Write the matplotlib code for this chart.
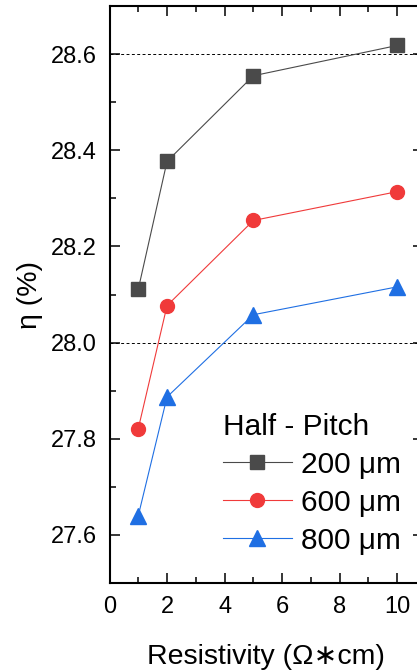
import matplotlib
matplotlib.use("Agg")
import matplotlib.pyplot as plt
from matplotlib.ticker import MultipleLocator

plt.rcParams['font.family'] = ['Liberation Sans', 'DejaVu Sans']

# data
resistivity = [1, 2, 5, 10]
eta_200 = [28.111, 28.377, 28.555, 28.618]
eta_600 = [27.821, 28.077, 28.254, 28.314]
eta_800 = [27.640, 27.887, 28.058, 28.116]
labels = ["200 μm", "600 μm", "800 μm"]
grid_levels = [28.0, 28.6]

fig = plt.figure(figsize=(4.17, 6.72), dpi=100)
ax = fig.add_axes([0.2626, 0.1324, 0.752, 0.8586])

ax.plot(resistivity, eta_200, color="#4a4a4a", lw=0.8, marker="s", ms=9.5,
        mec="#4a4a4a", mfc="#4a4a4a", label=labels[0])
ax.plot(resistivity, eta_600, color="#f03a3a", lw=0.8, marker="o", ms=10,
        mec="#f03a3a", mfc="#f03a3a", label=labels[1])
ax.plot(resistivity, eta_800, color="#1f6fe3", lw=0.8, marker="^", ms=11,
        mec="#1f6fe3", mfc="#1f6fe3", label=labels[2])

for g in grid_levels:
    ax.axhline(g, color="black", lw=0.7, ls=(0, (3, 2.5)), zorder=0)

ax.set_xlim(0, 10.9)
ax.set_ylim(27.5, 28.7)
ax.xaxis.set_major_locator(MultipleLocator(2))
ax.xaxis.set_minor_locator(MultipleLocator(1))
ax.yaxis.set_major_locator(MultipleLocator(0.2))
ax.yaxis.set_minor_locator(MultipleLocator(0.1))
ax.yaxis.set_major_formatter(matplotlib.ticker.FormatStrFormatter("%.1f"))

ax.tick_params(which="both", direction="in", top=True, right=True, width=1.1)
ax.tick_params(which="major", length=7.5, labelsize=17)
ax.tick_params(which="minor", length=4)
ax.tick_params(axis="y", pad=9)
ax.tick_params(axis="x", pad=9)
for s in ax.spines.values():
    s.set_linewidth(1.5)

ax.set_xlabel("Resistivity (Ω∗cm)", fontsize=20.5, labelpad=19)
ax.set_ylabel("η (%)", fontsize=20.5, labelpad=6)

leg = ax.legend(title="Half - Pitch", loc="lower left", bbox_to_anchor=(0.295, 0.013),
                frameon=False, fontsize=21.5, title_fontsize=21.5, handlelength=2.3,
                handletextpad=0.3, labelspacing=0.33, borderaxespad=0.3)
leg._legend_box.align = "left"

fig.savefig("out.png", dpi=100)
